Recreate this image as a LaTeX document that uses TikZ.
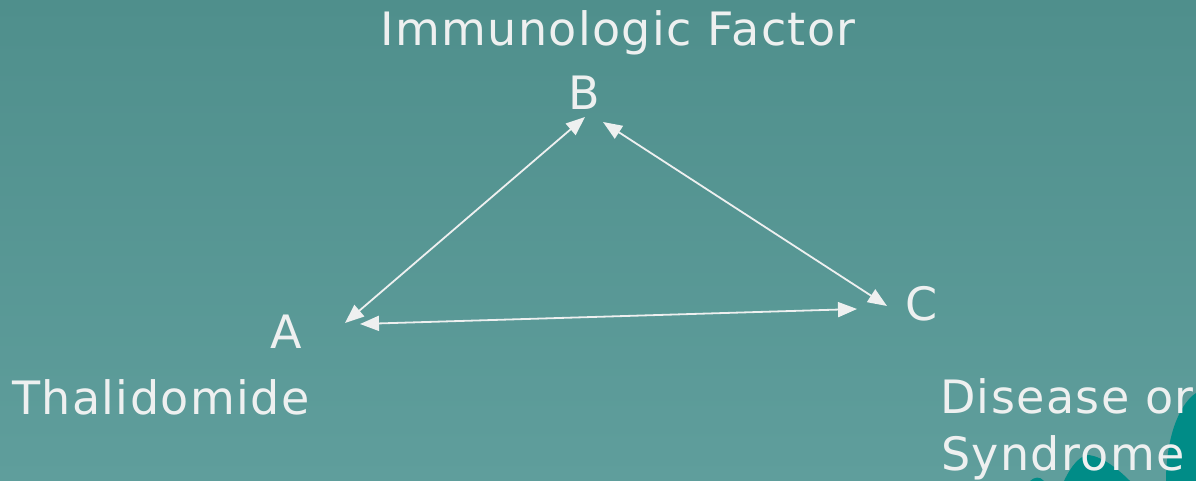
\documentclass[tikz,border=0pt]{standalone}
\usepackage{fontspec}
\setmainfont{DejaVu Sans}[LetterSpace=3.0]
\usetikzlibrary{arrows.meta}
\definecolor{bgtop}{RGB}{79,143,140}
\definecolor{bgbot}{RGB}{95,158,156}
\definecolor{blob}{RGB}{0,140,135}
\definecolor{txt}{RGB}{238,240,240}
\tikzset{
  lbl/.style={anchor=base west, inner sep=0pt, text=txt, font=\fontsize{46}{57}\selectfont},
  link/.style={draw=txt, line width=1.8pt, {Triangle[length=19pt,width=15pt]}-{Triangle[length=19pt,width=15pt]}}
}
\begin{document}
\begin{tikzpicture}[x=1pt,y=-1pt]
\shade[top color=bgtop, bottom color=bgbot] (0,0) rectangle (1196,481);
\useasboundingbox (0,0) rectangle (1196,481);
% decorative teal shapes bottom right
\fill[blob] (1196,393) .. controls (1178,405) and (1166,440) .. (1166,481) -- (1196,481) -- cycle;
\fill[blob] (1064,481) .. controls (1071,466) and (1080,455) .. (1089,455) .. controls (1103,457) and (1118,469) .. (1130,481) -- cycle;
\fill[blob] (1030,481) .. controls (1034,477) and (1040,476) .. (1044,481) -- cycle;
% labels
\node[lbl] (title) at (380,46) {Immunologic Factor};
\node[lbl] (B) at (568,110) {B};
\node[lbl] (A) at (270,348) {A};
\node[lbl] (C) at (905,320) {C};
\node[lbl] (thal) at (12,414) {Thalidomide};
\node[lbl] (dis) at (940,413) {Disease or};
\node[lbl] (syn) at (941,470) {Syndrome};
% connector endpoints
\coordinate (ab1) at (345,323);
\coordinate (ab2) at (585,117);
\coordinate (bc1) at (603,122);
\coordinate (bc2) at (887,306);
\coordinate (ac1) at (360,324);
\coordinate (ac2) at (857,309);
\draw[link] (ab1) -- (ab2);
\draw[link] (bc1) -- (bc2);
\draw[link] (ac1) -- (ac2);
\end{tikzpicture}
\end{document}
